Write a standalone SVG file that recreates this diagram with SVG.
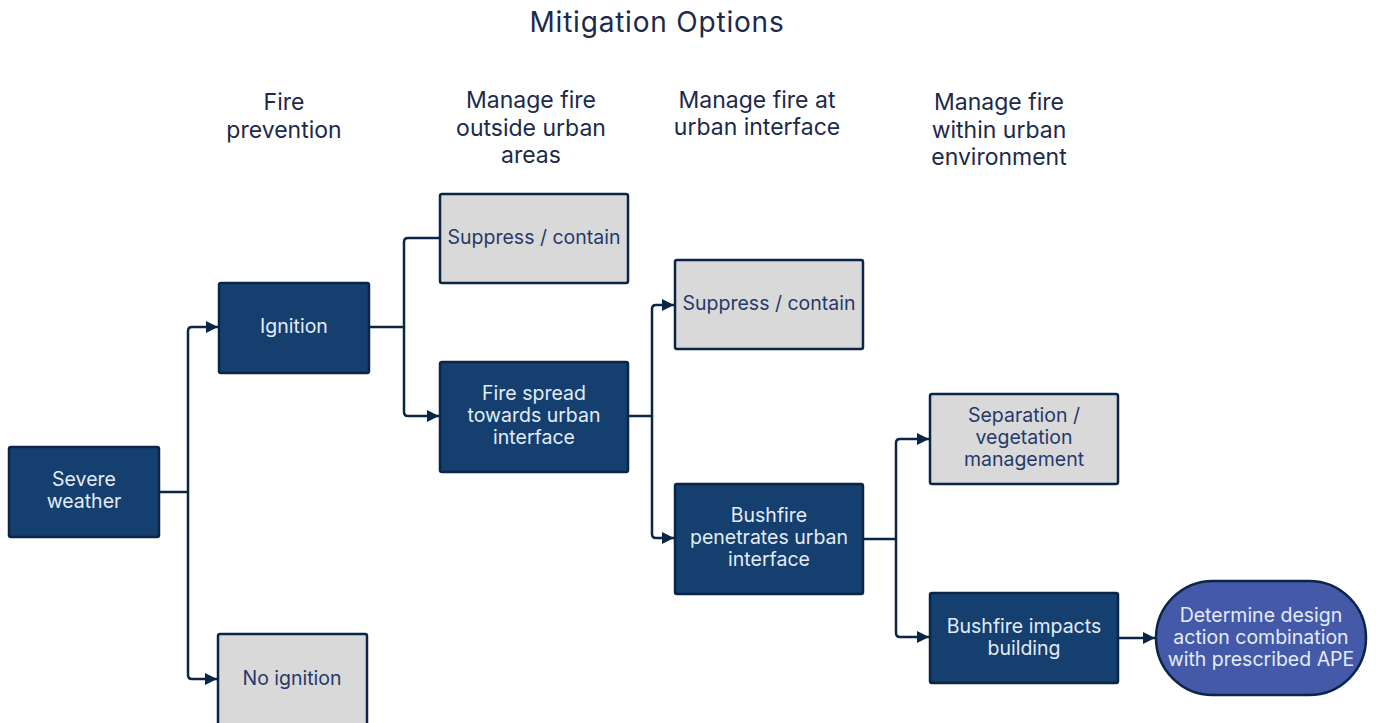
<svg xmlns="http://www.w3.org/2000/svg" width="1376" height="723" viewBox="0 0 1376 723">
<defs>
<style>
.hdr{font-family:Inter,"Liberation Sans",sans-serif;font-size:23px;fill:#1c2a4a;text-anchor:middle}
.title{font-family:Inter,"Liberation Sans",sans-serif;font-size:28px;letter-spacing:0.8px;fill:#1c2a4a;text-anchor:middle}
.dark rect{fill:#143f6e;stroke:#0b2547;stroke-width:2.5}
.gray rect{fill:#d9d9d9;stroke:#0b2547;stroke-width:2.5}
.dark text{font-family:Inter,"Liberation Sans",sans-serif;font-size:19.5px;fill:#e3ecf7;text-anchor:middle}
.gray text{font-family:Inter,"Liberation Sans",sans-serif;font-size:19.5px;fill:#26396a;text-anchor:middle}
.pill rect{fill:#4459a8;stroke:#0b2547;stroke-width:2.5}
.pill text{font-family:Inter,"Liberation Sans",sans-serif;font-size:19.5px;fill:#e3ecf7;text-anchor:middle}
.conn path{fill:none;stroke:#0b2547;stroke-width:2.5;stroke-linejoin:round}
</style>
<marker id="arr" viewBox="0 0 10 10" refX="10" refY="5" markerWidth="5" markerHeight="5" orient="auto" markerUnits="strokeWidth">
<path d="M0,0 L10,5 L0,10 z" fill="#0b2547"/>
</marker>
</defs>
<rect width="1376" height="723" fill="#ffffff"/>
<g id="headers">
<text class="title" x="657" y="32">Mitigation Options</text>
<text class="hdr" x="284" y="110">Fire</text>
<text class="hdr" x="284" y="138">prevention</text>
<text class="hdr" x="531" y="108">Manage fire</text>
<text class="hdr" x="531" y="136">outside urban</text>
<text class="hdr" x="531" y="163">areas</text>
<text class="hdr" x="757" y="108">Manage fire at</text>
<text class="hdr" x="757" y="135">urban interface</text>
<text class="hdr" x="999" y="110">Manage fire</text>
<text class="hdr" x="999" y="138">within urban</text>
<text class="hdr" x="999" y="165">environment</text>
</g>
<g class="conn" id="connectors">
<path d="M159,492 H188 V331 Q188,327 192,327 H218" marker-end="url(#arr)"/>
<path d="M188,492 V675 Q188,679 192,679 H217" marker-end="url(#arr)"/>
<path d="M369,327 H404 V242 Q404,238 408,238 H440"/>
<path d="M404,327 V412 Q404,416 408,416 H439" marker-end="url(#arr)"/>
<path d="M628,416 H652 V309 Q652,305 656,305 H674" marker-end="url(#arr)"/>
<path d="M652,416 V534 Q652,538 656,538 H674" marker-end="url(#arr)"/>
<path d="M863,539 H896 V443 Q896,439 900,439 H929" marker-end="url(#arr)"/>
<path d="M896,539 V633 Q896,637 900,637 H929" marker-end="url(#arr)"/>
<path d="M1118,638 H1155" marker-end="url(#arr)"/>
</g>
<g id="severe" class="dark"><rect x="9" y="447" width="150" height="90" rx="2"/><text x="84" y="486">Severe</text><text x="84" y="508">weather</text></g>
<g id="ignition" class="dark"><rect x="219" y="283" width="150" height="90" rx="2"/><text x="294" y="333">Ignition</text></g>
<g id="noignition" class="gray"><rect x="218" y="634" width="149" height="100" rx="2"/><text x="292" y="685">No ignition</text></g>
<g id="suppress1" class="gray"><rect x="440" y="194" width="188" height="89" rx="2"/><text x="534" y="244">Suppress / contain</text></g>
<g id="firespread" class="dark"><rect x="440" y="362" width="188" height="110" rx="2"/><text x="534" y="400">Fire spread</text><text x="534" y="422">towards urban</text><text x="534" y="444">interface</text></g>
<g id="suppress2" class="gray"><rect x="675" y="260" width="188" height="89" rx="2"/><text x="769" y="310">Suppress / contain</text></g>
<g id="penetrates" class="dark"><rect x="675" y="484" width="188" height="110" rx="2"/><text x="769" y="522">Bushfire</text><text x="769" y="544">penetrates urban</text><text x="769" y="566">interface</text></g>
<g id="separation" class="gray"><rect x="930" y="394" width="188" height="90" rx="2"/><text x="1024" y="422">Separation /</text><text x="1024" y="444">vegetation</text><text x="1024" y="466">management</text></g>
<g id="impacts" class="dark"><rect x="930" y="593" width="188" height="90" rx="2"/><text x="1024" y="633">Bushfire impacts</text><text x="1024" y="655">building</text></g>
<g id="determine" class="pill"><rect x="1156" y="581" width="210" height="114" rx="57"/><text x="1261" y="622">Determine design</text><text x="1261" y="644">action combination</text><text x="1261" y="666">with prescribed APE</text></g>
</svg>
